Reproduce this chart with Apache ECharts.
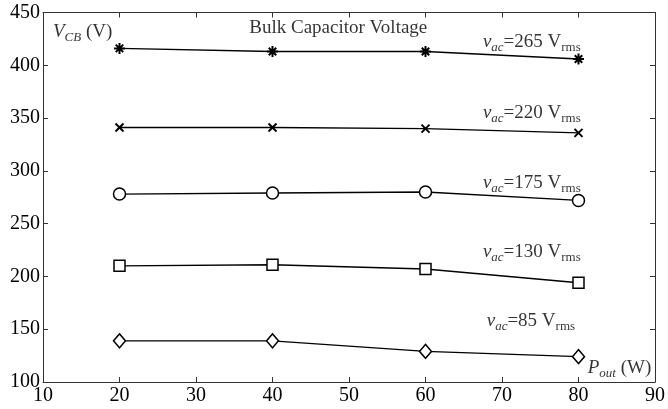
<!DOCTYPE html>
<html>
<head>
<meta charset="utf-8">
<script src="https://cdn.jsdelivr.net/npm/echarts@6/dist/echarts.min.js"></script>
<style>
  html, body { margin: 0; padding: 0; background: #fff; }
  #chart { width: 668px; height: 409px; }
</style>
</head>
<body>
<div id="chart"></div>
<script>
// Output power (W) at which the bulk capacitor voltage was measured
const powerOut = [20, 40, 60, 80];

// Bulk capacitor voltage V_CB (V) for each input line voltage
const vcb265 = [416, 413, 413, 406];
const vcb220 = [341, 341, 340, 336];
const vcb175 = [278, 279, 280, 272];
const vcb130 = [210, 211, 207, 194];
const vcb85  = [139, 139, 129, 124];

// Line voltage captions (V rms)
const lineVoltages = ['265', '220', '175', '130', '85'];

// Axis ranges
const xTicks = [10, 20, 30, 40, 50, 60, 70, 80, 90];
const yTicks = [100, 150, 200, 250, 300, 350, 400, 450];

const FONT = 'Liberation Serif';
const AXIS_COLOR = '#333';

const pairs = vals => powerOut.map((p, i) => [p, vals[i]]);

const starPath = 'path://M5 0L5 10M0 5L10 5M1.6 1.6L8.4 8.4M8.4 1.6L1.6 8.4';
const crossPath = 'path://M0 0L10 10M10 0L0 10';

function curve(name, vals, symbol, size, filled) {
  return {
    name: name,
    type: 'line',
    data: pairs(vals),
    symbol: symbol,
    symbolSize: size,
    showAllSymbol: true,
    lineStyle: { color: '#000', width: 1.4 },
    itemStyle: filled
      ? { color: '#000', borderColor: '#000', borderWidth: 2 }
      : { color: '#fff', borderColor: '#000', borderWidth: 1.5 },
    z: 3
  };
}

// rich text styles for captions with italic subscripts
const rich = {
  v:   { fontFamily: FONT, fontSize: 19, fontStyle: 'italic', color: '#000', lineHeight: 24, verticalAlign: 'middle' },
  t:   { fontFamily: FONT, fontSize: 19, color: '#000', lineHeight: 24, verticalAlign: 'middle' },
  si:  { fontFamily: FONT, fontSize: 13, fontStyle: 'italic', color: '#000', lineHeight: 12, verticalAlign: 'bottom' },
  s:   { fontFamily: FONT, fontSize: 13, color: '#000', lineHeight: 12, verticalAlign: 'bottom' },
  plain: { fontFamily: FONT, fontSize: 19, color: '#000', lineHeight: 22 }
};

// caption anchor points in data coordinates (left edge, vertical centre)
const captionX = [67.5, 67.5, 67.5, 67.5, 68.0];
const captionY = [422, 354.5, 288.5, 223, 157.5];

const notes = lineVoltages.map((v, i) => ({
  value: [captionX[i], captionY[i]],
  label: { formatter: '{v|v}{si|ac}{t|=' + v + ' V}{s|rms}' }
}));
notes.push({
  value: [11.3, 431.5],
  label: { formatter: '{v|V}{si|CB}{t| (V)}' }
});
notes.push({
  value: [81.2, 113.5],
  label: { formatter: '{v|P}{si|out}{t| (W)}' }
});
notes.push({
  value: [48.6, 435.5],
  label: { formatter: '{plain|Bulk Capacitor Voltage}', position: 'inside' }
});

function xAxisDef(pos, labels) {
  return {
    type: 'value', position: pos, min: 10, max: 90, interval: 10,
    axisLine: { show: true, onZero: false, lineStyle: { color: AXIS_COLOR, width: 1 } },
    axisTick: { show: true, inside: true, length: 5, lineStyle: { color: AXIS_COLOR } },
    axisLabel: { show: labels, color: '#000', fontFamily: FONT, fontSize: 20, margin: 4 },
    splitLine: { show: false }
  };
}
function yAxisDef(pos, labels) {
  return {
    type: 'value', position: pos, min: 100, max: 450, interval: 50,
    axisLine: { show: true, onZero: false, lineStyle: { color: AXIS_COLOR, width: 1 } },
    axisTick: { show: true, inside: true, length: 5, lineStyle: { color: AXIS_COLOR } },
    axisLabel: { show: labels, color: '#000', fontFamily: FONT, fontSize: 20, margin: 3 },
    splitLine: { show: false }
  };
}

const chart = echarts.init(document.getElementById('chart'), null, { renderer: 'canvas' });
chart.setOption({
  animation: false,
  backgroundColor: '#fff',
  grid: { left: 43, right: 9, top: 12.5, bottom: 27, containLabel: false },
  xAxis: [xAxisDef('bottom', true), xAxisDef('top', false)],
  yAxis: [yAxisDef('left', true), yAxisDef('right', false)],
  series: [
    curve('265', vcb265, starPath, 11, true),
    curve('220', vcb220, crossPath, 8, true),
    curve('175', vcb175, 'circle', 12, false),
    curve('130', vcb130, 'rect', 11, false),
    curve('85', vcb85, 'diamond', [12, 14], false),
    {
      name: 'notes',
      type: 'scatter',
      symbolSize: 0,
      silent: true,
      data: notes,
      label: { show: true, position: 'right', distance: 0, rich: rich },
      z: 5
    }
  ]
});
</script>
</body>
</html>
